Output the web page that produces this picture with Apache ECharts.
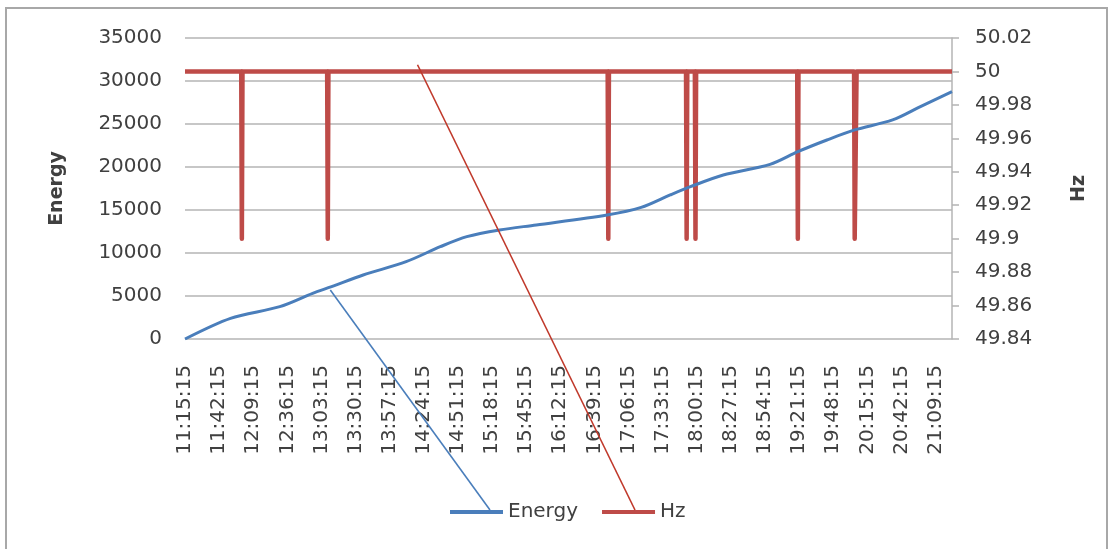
<!DOCTYPE html>
<html>
<head>
<meta charset="utf-8">
<script src="https://cdn.jsdelivr.net/npm/echarts@6/dist/echarts.min.js"></script>
<style>
  html, body { margin: 0; padding: 0; background: #ffffff; }
  #frame { position: absolute; left: 5px; top: 7px; width: 1103px; height: 545px; border: 2px solid #a8a8a8; box-sizing: border-box; }
  #chart { position: absolute; left: 0; top: 0; width: 1113px; height: 549px; }
</style>
</head>
<body>
<div id="frame"></div>
<div id="chart"></div>
<script>
// ---- data ----
const xTickLabels = ['11:15:15','11:42:15','12:09:15','12:36:15','13:03:15','13:30:15','13:57:15','14:24:15',
  '14:51:15','15:18:15','15:45:15','16:12:15','16:39:15','17:06:15','17:33:15','18:00:15','18:27:15',
  '18:54:15','19:21:15','19:48:15','20:15:15','20:42:15','21:09:15'];
const xStart = '11:15:15';
const xEnd = '21:22:15';
const xStepMinutes = 27;

const energyTimes = ['11:15:15','11:51:15','12:30:15','12:56:15','13:11:15','13:36:15','14:10:15','14:37:15',
  '14:58:15','15:24:15','15:53:15','16:49:15','17:16:15','17:39:15','17:55:15','18:21:15','18:58:15',
  '19:20:15','19:43:15','20:05:15','20:35:15','20:57:15','21:22:15'];
const energyValues = [0, 2400, 3760, 5310, 6080, 7440, 8990, 10730,
  11900, 12680, 13260, 14420, 15300, 16750, 17710, 19070, 20300,
  21780, 23140, 24310, 25470, 27020, 28760];

const hzTimes = ['11:15:15',
  '11:59:45','12:00:15','12:00:45',
  '13:07:45','13:08:15','13:08:45',
  '16:49:45','16:50:15','16:50:45',
  '17:51:45','17:52:15','17:52:45',
  '17:58:45','17:59:15','17:59:45',
  '19:19:45','19:20:15','19:20:45',
  '20:04:45','20:05:15','20:06:15','20:06:45',
  '21:22:15'];
const hzValues = [50,
  50, 49.9, 50,
  50, 49.9, 50,
  50, 49.9, 50,
  50, 49.9, 50,
  50, 49.9, 50,
  50, 49.9, 50,
  50, 49.9, 49.9, 50,
  50];

// leader-line anchors (data coordinates on each series) drawn toward the legend
const energyPointer = ['13:10:15', 5700];
const hzPointer = ['14:19:15', 50.004];

// ---- helpers ----
function secs(t) { const p = t.split(':').map(Number); return p[0] * 3600 + p[1] * 60 + p[2]; }
function toMin(t) { return (secs(t) - secs(xStart)) / 60; }

const energyData = energyTimes.map((t, i) => [toMin(t), energyValues[i]]);
const hzData = hzTimes.map((t, i) => [toMin(t), hzValues[i]]);

const textColor = '#404040';
const fontFamily = 'DejaVu Sans';
const blue = '#4a7ebb';
const red = '#be4b48';
const legendLeft = 450, legendTop = 502;

const chart = echarts.init(document.getElementById('chart'), null, { renderer: 'canvas' });
chart.setOption({
  backgroundColor: 'transparent',
  animation: false,
  textStyle: { fontFamily: fontFamily },
  grid: { left: 185, right: 161, top: 38, bottom: 210, containLabel: false, outerBoundsMode: 'none' },
  legend: {
    data: ['Energy', 'Hz'],
    left: legendLeft, top: legendTop, padding: 0,
    icon: 'rect', itemWidth: 53, itemHeight: 4, itemGap: 24,
    textStyle: { fontSize: 20, color: textColor, fontFamily: fontFamily }
  },
  xAxis: {
    type: 'value',
    min: 0, max: toMin(xEnd), interval: xStepMinutes,
    axisLine: { show: false },
    axisTick: { show: false },
    splitLine: { show: false },
    axisLabel: {
      rotate: 90, margin: 26, fontSize: 20, color: textColor, fontFamily: fontFamily,
      showMaxLabel: false,
      formatter: function (v) { const i = Math.round(v / xStepMinutes); return xTickLabels[i] || ''; }
    }
  },
  yAxis: [
    {
      type: 'value', min: 0, max: 35000, interval: 5000,
      name: 'Energy', nameLocation: 'middle', nameRotate: 90, nameGap: 118,
      nameTextStyle: { fontSize: 19, fontWeight: 'bold', color: textColor, fontFamily: fontFamily },
      axisLine: { show: false }, axisTick: { show: false },
      axisLabel: { margin: 23, fontSize: 20, color: textColor, fontFamily: fontFamily,
        formatter: function (v) { return String(v); } },
      splitLine: { show: true, lineStyle: { color: '#b4b4b4', width: 1.5 } }
    },
    {
      type: 'value', min: 49.84, max: 50.02, interval: 0.02, position: 'right',
      name: 'Hz', nameLocation: 'middle', nameRotate: 90, nameGap: 118,
      nameTextStyle: { fontSize: 19, fontWeight: 'bold', color: textColor, fontFamily: fontFamily },
      axisLine: { show: true, lineStyle: { color: '#b4b4b4', width: 1.5 } },
      axisTick: { show: true, length: 7, lineStyle: { color: '#b4b4b4', width: 1.5 } },
      axisLabel: { margin: 23, fontSize: 20, color: textColor, fontFamily: fontFamily,
        formatter: function (v) { return String(Math.round(v * 100) / 100); } },
      splitLine: { show: false }
    }
  ],
  series: [
    {
      name: 'Energy', type: 'line', yAxisIndex: 0, data: energyData,
      smooth: 0.3, showSymbol: false, symbol: 'none',
      lineStyle: { color: blue, width: 3 }, itemStyle: { color: blue }, z: 3
    },
    {
      name: 'Hz', type: 'line', yAxisIndex: 1, data: hzData,
      showSymbol: false, symbol: 'none',
      lineStyle: { color: red, width: 4.5, join: 'round', cap: 'butt' }, itemStyle: { color: red }, z: 2
    }
  ]
});

const pE = chart.convertToPixel({ seriesIndex: 0 }, [toMin(energyPointer[0]), energyPointer[1]]);
const pH = chart.convertToPixel({ seriesIndex: 1 }, [toMin(hzPointer[0]), hzPointer[1]]);
chart.setOption({
  graphic: [
    { type: 'line', shape: { x1: pE[0], y1: pE[1], x2: legendLeft + 40, y2: legendTop + 8 },
      style: { stroke: blue, lineWidth: 1.6 }, z: 10 },
    { type: 'line', shape: { x1: pH[0], y1: pH[1], x2: legendLeft + 185, y2: legendTop + 8 },
      style: { stroke: '#c0392b', lineWidth: 1.6 }, z: 10 }
  ]
});
</script>
</body>
</html>
